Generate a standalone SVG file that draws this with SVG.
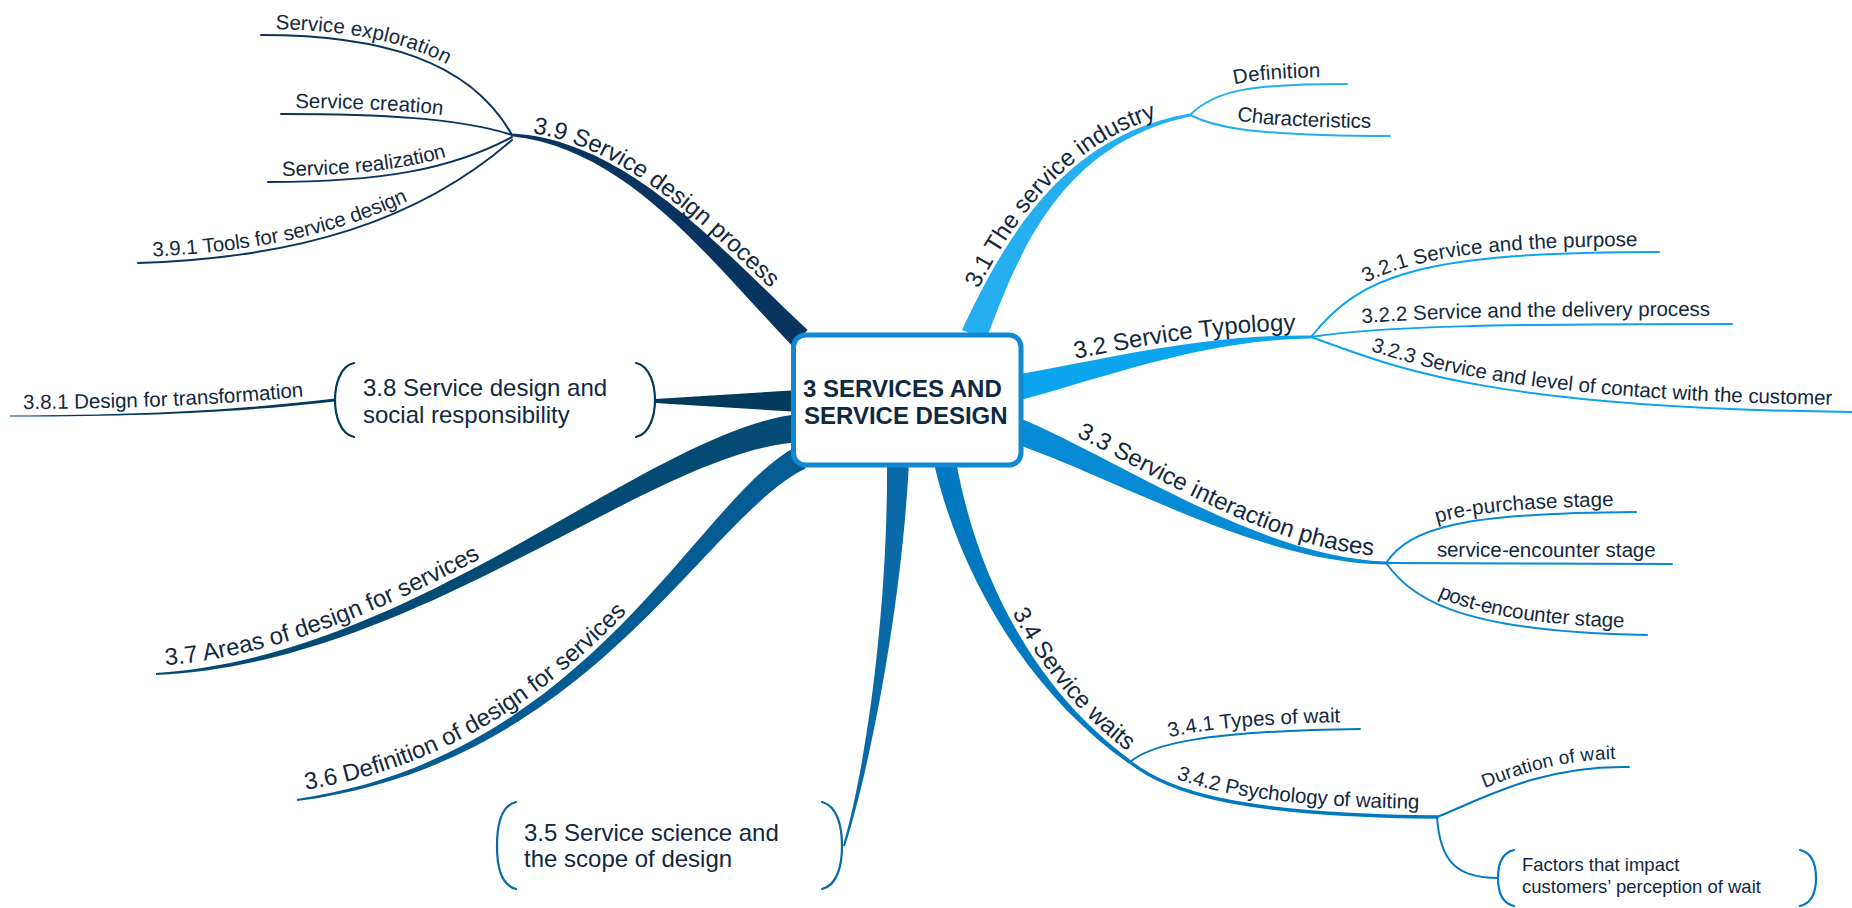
<svg xmlns="http://www.w3.org/2000/svg" xmlns:xlink="http://www.w3.org/1999/xlink" width="1852" height="908" viewBox="0 0 1852 908">
  <style>
    .lbl { font-family: "Liberation Sans", Arial, sans-serif; fill: #12283d; }
    .main { font-size: 24px; }
    .sub { font-size: 20.5px; }
    .leaf { font-size: 19px; }
    .root { font-size: 24px; font-weight: bold; fill: #0f2a40; }
    .ln { fill: none; stroke-width: 2; stroke-linecap: round; }
    .br { fill: none; stroke-width: 2.2; stroke-linecap: round; }
    .c31 { stroke: #25aef0; } .f31 { fill: #25aef0; }
    .c32 { stroke: #0ba5ef; } .f32 { fill: #0ba5ef; }
    .c33 { stroke: #088bd5; } .f33 { fill: #088bd5; }
    .c34 { stroke: #0079c0; } .f34 { fill: #0079c0; }
    .c35 { stroke: #0a6aa8; } .f35 { fill: #0a6aa8; }
    .c36 { stroke: #055c92; } .f36 { fill: #055c92; }
    .c37 { stroke: #034a74; } .f37 { fill: #034a74; }
    .c38 { stroke: #023a5b; } .f38 { fill: #023a5b; }
    .c39 { stroke: #08345f; } .f39 { fill: #08345f; }
  </style>
  <defs>
    <!-- baselines for the curved main-topic labels -->
    <path id="t31" d="M959.3,328.8 C997.1,244.5 1058.5,132.1 1189.1,110.1"/>
    <path id="t32" d="M1011.3,370.4 C1097.1,356.3 1200,329 1311,330.5"/>
    <path id="t33" d="M1022.5,410.4 C1125.7,455.1 1260.2,551 1386.2,556.5"/>
    <path id="t34" d="M960.7,458.8 C980.7,572.4 1034.7,683.5 1134.1,756.3"/>
    <path id="t36" d="M295.8,791.1 C588.65,750.1 693.5,497.6 792.2,442.9"/>
    <path id="t37" d="M155.6,666 C419.4,649 648.8,425 798.5,409"/>
    <path id="t39" d="M513.5,131 C630.8,138 728.4,251.4 811.2,326.5"/>
  </defs>

  <!-- connectors: tapered main branches and thin sub-branches -->
  <g id="connectors">
    <path class="f31" d="M986,340.1 C1018.3,253.5 1060.8,143.9 1190.3,116.5 L1189.7,113.5 C1059.2,136.1 1001.7,246.5 962,329.9 Z"/>
    <path class="f32" d="M1017.7,400.7 C1101.9,378.8 1200,340 1311,338.5 L1311,335.5 C1200,334 1098.1,361.2 1012.3,375.3 Z"/>
    <path class="f33" d="M1010.4,442.1 C1116.8,478.4 1259.9,563 1386,564.5 L1386,561.5 C1260.1,557 1123.2,461.6 1019.6,417.9 Z"/>
    <path class="f34" d="M934.2,464.2 C960.2,576.6 1028.2,692.4 1128.8,763.6 L1131.2,760.4 C1031.8,687.6 975.8,573.4 955.8,459.8 Z"/>
    <path class="f35" d="M887,461.8 C888,599.8 868.1,759.4 843,845.7 L845,846.3 C871.9,760.6 902,600.2 909,462.2 Z"/>
    <path class="f36" d="M794.5,447.4 C695.9,502 589.5,756 296.9,799 L297.1,801 C590.5,764 704.1,518 805.5,468.6 Z"/>
    <path class="f37" d="M798.9,414 C649.2,430 419.8,656 155.9,673 L156.1,675 C420.2,664 650.8,450 801.1,442 Z"/>
    <path class="f38" d="M655,399 L800,390 L800,412 L655,403 Z"/>
    <path class="f38" d="M335,398.5 C250,408.8 150,415.3 10,415.5 L10,416.5 C150,416.7 250,411.2 335,401.5 Z"/>
    <path class="f39" d="M807.7,330.1 C725.6,254.3 630.5,141 513.2,133.5 L512.8,136.5 C629.5,149 714.4,265.7 792.3,345.9 Z"/>

    <path id="p391" class="ln c39" d="M261,35 C380,35 470,60 512,135"/>
    <path id="p392" class="ln c39" d="M281,114 C380,114 460,118 512,135"/>
    <path id="p393" class="ln c39" d="M268,182 C380,182 450,170 512,137"/>
    <path id="p394" class="ln c39" d="M138,263 C300,258 420,220 512,140"/>
    <path id="p381" d="M10,416 C150,416 250,410 335,400" fill="none"/>

    <path id="p311" class="ln c31" d="M1190,115 C1215,90 1250,84 1347,84"/>
    <path id="p312" class="ln c31" d="M1190,115 C1210,125 1240,136 1390,136"/>

    <path id="p321" class="ln c32" d="M1311,337 C1360,275 1420,252 1659,252"/>
    <path id="p322" class="ln c32" d="M1311,337 C1380,326 1500,324 1732,324"/>
    <path id="p323" class="ln c32" d="M1311,337 C1390,365 1480,408 1852,412"/>

    <path id="p331" class="ln c33" d="M1386,563 C1410,528 1460,513 1636,512"/>
    <path id="p332" class="ln c33" d="M1386,563 C1450,564 1550,564 1672,564"/>
    <path id="p333" class="ln c33" d="M1386,563 C1410,595 1450,632 1647,635"/>

    <path id="p341" class="ln c34" d="M1130,762 C1150,745 1200,731 1360,729"/>
    <path id="p342" class="ln c34" style="stroke-width:3.5" d="M1130,762 C1165,790 1230,815 1437,817"/>
    <path id="p3421" class="ln c34" d="M1437,817 C1480,800 1540,765 1629,767"/>
    <path id="p3422" class="ln c34" d="M1437,817 C1440,860 1455,878 1498,878"/>
  </g>

  <!-- central topic -->
  <g id="root">
    <rect x="793.5" y="335" width="227.5" height="130" rx="12" fill="#ffffff" stroke="#1288d3" stroke-width="5"/>
    <text class="lbl root" x="803" y="397">3 SERVICES AND</text>
    <text class="lbl root" x="804" y="424">SERVICE DESIGN</text>
  </g>

  <g id="n31">
    <text class="lbl main"><textPath xlink:href="#t31" startOffset="44">3.1 The service industry</textPath></text>
  </g>
  <g id="n311"><text class="lbl sub" dy="-7"><textPath xlink:href="#p311" startOffset="52">Definition</textPath></text></g>
  <g id="n312"><text class="lbl sub" dy="-8"><textPath xlink:href="#p312" startOffset="48">Characteristics</textPath></text></g>

  <g id="n32">
    <text class="lbl main"><textPath xlink:href="#t32" startOffset="65">3.2 Service Typology</textPath></text>
  </g>
  <g id="n321"><text class="lbl sub" dy="-6"><textPath xlink:href="#p321" startOffset="76">3.2.1 Service and the purpose</textPath></text></g>
  <g id="n322"><text class="lbl sub" dy="-8"><textPath xlink:href="#p322" startOffset="52">3.2.2 Service and the delivery process</textPath></text></g>
  <g id="n323"><text class="lbl sub" dy="-7"><textPath xlink:href="#p323" startOffset="61">3.2.3 Service and level of contact with the customer</textPath></text></g>

  <g id="n33">
    <text class="lbl main"><textPath xlink:href="#t33" startOffset="60">3.3 Service interaction phases</textPath></text>
  </g>
  <g id="n331"><text class="lbl sub" dy="-6"><textPath xlink:href="#p331" startOffset="64">pre-purchase stage</textPath></text></g>
  <g id="n332"><text class="lbl sub" dy="-7"><textPath xlink:href="#p332" startOffset="51">service-encounter stage</textPath></text></g>
  <g id="n333"><text class="lbl sub" dy="-7"><textPath xlink:href="#p333" startOffset="64">post-encounter stage</textPath></text></g>

  <g id="n34">
    <text class="lbl main"><textPath xlink:href="#t34" startOffset="163">3.4 Service waits</textPath></text>
  </g>
  <g id="n341"><text class="lbl sub" dy="-7"><textPath xlink:href="#p341" startOffset="45">3.4.1 Types of wait</textPath></text></g>
  <g id="n342"><text class="lbl sub" dy="-8"><textPath xlink:href="#p342" startOffset="50">3.4.2 Psychology of waiting</textPath></text></g>
  <g id="n3421"><text class="lbl leaf" dy="-8"><textPath xlink:href="#p3421" startOffset="55">Duration of wait</textPath></text></g>
  <g id="n3422">
    <path class="br c34" d="M1514,850 C1501,853 1498,866 1498,878 C1498,890 1501,903 1514,906"/>
    <path class="br c34" d="M1800,850 C1813,853 1816,866 1816,878 C1816,890 1813,903 1800,906"/>
    <text class="lbl" style="font-size:18.5px" x="1522" y="871">Factors that impact</text>
    <text class="lbl" style="font-size:18.5px" x="1522" y="893">customers’ perception of wait</text>
  </g>

  <g id="n35">
    <path class="br c35" d="M516,802 C500,806 497,828 497,846 C497,864 500,885 516,889"/>
    <path class="br c35" d="M822,802 C838,806 842,828 842,846 C842,864 838,885 822,889"/>
    <text class="lbl main" x="524" y="841">3.5 Service science and</text>
    <text class="lbl main" x="524" y="867">the scope of design</text>
  </g>

  <g id="n36">
    <text class="lbl main"><textPath xlink:href="#t36" startOffset="10">3.6 Definition of design for services</textPath></text>
  </g>

  <g id="n37">
    <text class="lbl main"><textPath xlink:href="#t37" startOffset="10">3.7 Areas of design for services</textPath></text>
  </g>

  <g id="n38">
    <path class="br c38" d="M354,363 C340,366 335,385 335,400 C335,415 340,434 354,437"/>
    <path class="br c38" d="M636,363 C650,366 655,385 655,400 C655,415 650,434 636,437"/>
    <text class="lbl main" x="363" y="396">3.8 Service design and</text>
    <text class="lbl main" x="363" y="423">social responsibility</text>
  </g>
  <g id="n381"><text class="lbl sub" dy="-7"><textPath xlink:href="#p381" startOffset="13">3.8.1 Design for transformation</textPath></text></g>

  <g id="n39">
    <text class="lbl main"><textPath xlink:href="#t39" startOffset="19">3.9 Service design process</textPath></text>
  </g>
  <g id="n391"><text class="lbl sub" dy="-6"><textPath xlink:href="#p391" startOffset="14">Service exploration</textPath></text></g>
  <g id="n392"><text class="lbl sub" dy="-6"><textPath xlink:href="#p392" startOffset="14">Service creation</textPath></text></g>
  <g id="n393"><text class="lbl sub" dy="-6"><textPath xlink:href="#p393" startOffset="14">Service realization</textPath></text></g>
  <g id="n394"><text class="lbl sub" dy="-6"><textPath xlink:href="#p394" startOffset="15">3.9.1 Tools for service design</textPath></text></g>
</svg>
